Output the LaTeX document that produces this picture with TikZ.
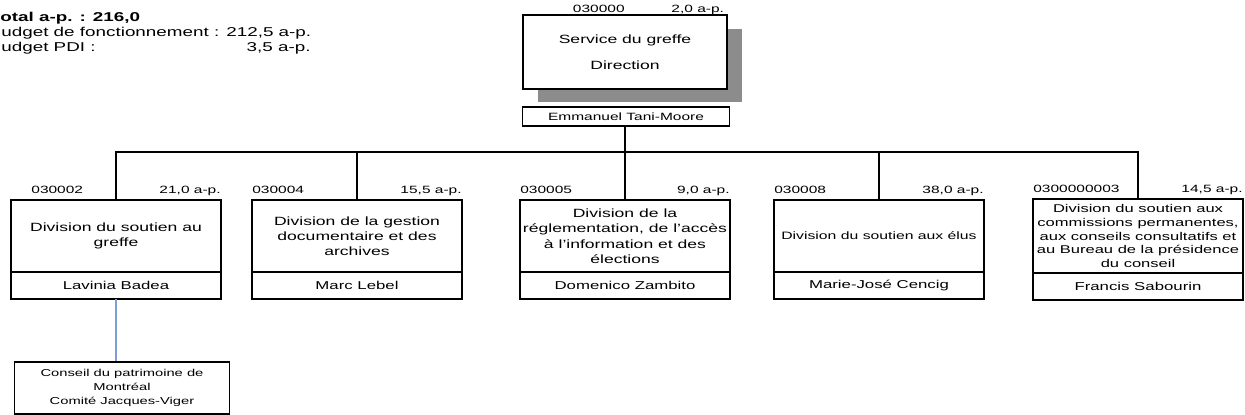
\documentclass[tikz,border=0pt]{standalone}
\usepackage{fontspec}
\setmainfont[FakeStretch=1.47]{Liberation Sans}
\usepackage{tikz}
\usetikzlibrary{positioning,shadows}
\definecolor{sublinkblue}{RGB}{125,158,210}
\tikzset{%
	headbox/.style  = {draw, rectangle, fill=white, line width=0.9pt, outer sep=0pt, minimum width=4.08cm, minimum height=1.48cm, align=center, font=\fontsize{6.8}{8.2}\selectfont, drop shadow={shadow xshift=0.3cm, shadow yshift=-0.27cm, fill=black!45, opacity=1}},
	bossbox/.style  = {draw, rectangle, line width=0.8pt, outer sep=0pt, inner sep=0pt, minimum width=4.14cm, minimum height=0.38cm, font=\fontsize{6}{7}\selectfont},
	divbox/.style   = {draw, rectangle, line width=0.8pt, outer sep=0pt, inner xsep=0.5pt, minimum width=4.2cm, minimum height=1.44cm, align=center, font=\fontsize{6.8}{8.4}\selectfont},
	namebox/.style  = {draw, rectangle, line width=0.8pt, outer sep=0pt, inner sep=0pt, minimum width=4.2cm, minimum height=0.54cm, font=\fontsize{6.5}{7.5}\selectfont},
	codelbl/.style  = {anchor=base west, inner sep=0pt, yshift=3.5pt, font=\fontsize{6}{7}\selectfont},
	aplbl/.style    = {anchor=base east, inner sep=0pt, yshift=3.5pt, font=\fontsize{6}{7}\selectfont},
	toplbl/.style   = {anchor=base east, inner sep=0pt, yshift=1.2pt, font=\fontsize{6}{7}\selectfont},
	budgettxt/.style= {anchor=west, inner sep=0pt, font=\fontsize{7.3}{8.5}\selectfont},
	busline/.style  = {line width=0.6pt},
	bluelink/.style = {line width=0.8pt, sublinkblue},
}

\begin{document}
\begin{tikzpicture}[x=0.02cm, y=-0.02cm]
	\useasboundingbox (0,0) rectangle (1245,415);
	
	\node[budgettxt, font=\bfseries\fontsize{7.3}{8.5}\selectfont] (total) at (0,18) {otal a-p. : 216,0};
	\node[budgettxt] (fonct) at (1,33) {udget de fonctionnement : 212,5 a-p.};
	\node[budgettxt] (pdi) at (1,48) {udget PDI :};
	\node[budgettxt, anchor=east] (pdival) at (311,48) {3,5 a-p.};
	
	\node[headbox] (greffe) at (625,52) {Service du greffe\\[6.5pt]Direction};
	\node[toplbl] (greffecode) at (greffe.north) {030000};
	\node[toplbl] (greffeap) at ([xshift=-1.5pt]greffe.north east) {2,0 a-p.};
	\node[bossbox] (tani) at (626,116.5) {Emmanuel Tani-Moore};
	\coordinate (bus) at (625,152);
	
	\node[divbox] (d1) at (116,236) {Division du soutien au\\greffe};
	\node[divbox] (d2) at (357,236) {Division de la gestion\\documentaire et des\\archives};
	\node[divbox, font=\fontsize{6.8}{8.8}\selectfont] (d3) at (625,236) {Division de la\\réglementation, de l'accès\\à l'information et des\\élections};
	\node[divbox, font=\fontsize{6.1}{7.5}\selectfont] (d4) at (879,236) {Division du soutien aux élus};
	\node[divbox, font=\fontsize{6.4}{7.7}\selectfont] (d5) at (1138,236) {Division du soutien aux\\commissions permanentes,\\aux conseils consultatifs et\\au Bureau de la présidence\\du conseil};
	
	\node[namebox, below=0pt of d1] (n1) {Lavinia Badea};
	\node[namebox, below=0pt of d2] (n2) {Marc Lebel};
	\node[namebox, below=0pt of d3] (n3) {Domenico Zambito};
	\node[namebox, below=0pt of d4] (n4) {Marie-José Cencig};
	\node[namebox, below=0pt of d5] (n5) {Francis Sabourin};
	
	\node[codelbl, xshift=20pt*0.57] (c1) at (d1.north west) {030002};
	\node[codelbl] (c2) at (d2.north west) {030004};
	\node[codelbl] (c3) at (d3.north west) {030005};
	\node[codelbl] (c4) at (d4.north west) {030008};
	\node[codelbl] (c5) at (d5.north west) {0300000003};
	\node[aplbl] (a1) at (d1.north east) {21,0 a-p.};
	\node[aplbl] (a2) at (d2.north east) {15,5 a-p.};
	\node[aplbl] (a3) at (d3.north east) {9,0 a-p.};
	\node[aplbl] (a4) at (d4.north east) {38,0 a-p.};
	\node[aplbl] (a5) at (d5.north east) {14,5 a-p.};
	
	\node[draw, rectangle, line width=0.8pt, minimum width=4.3cm, minimum height=1.04cm, align=center, font=\fontsize{5.7}{7.9}\selectfont] (cons) at (122,388) {Conseil du patrimoine de\\Montréal\\Comité Jacques-Viger};
	
	\draw[busline] (d3.north |- tani.south) -- (d3.north);
	\draw[busline] (d1.north) |- (bus) -| (d5.north);
	\foreach \i in {2,4} \draw[busline] (d\i.north) -- (d\i.north |- bus);
	\draw[bluelink] (n1.south) -- (n1.south |- cons.north);
\end{tikzpicture}
\end{document}
